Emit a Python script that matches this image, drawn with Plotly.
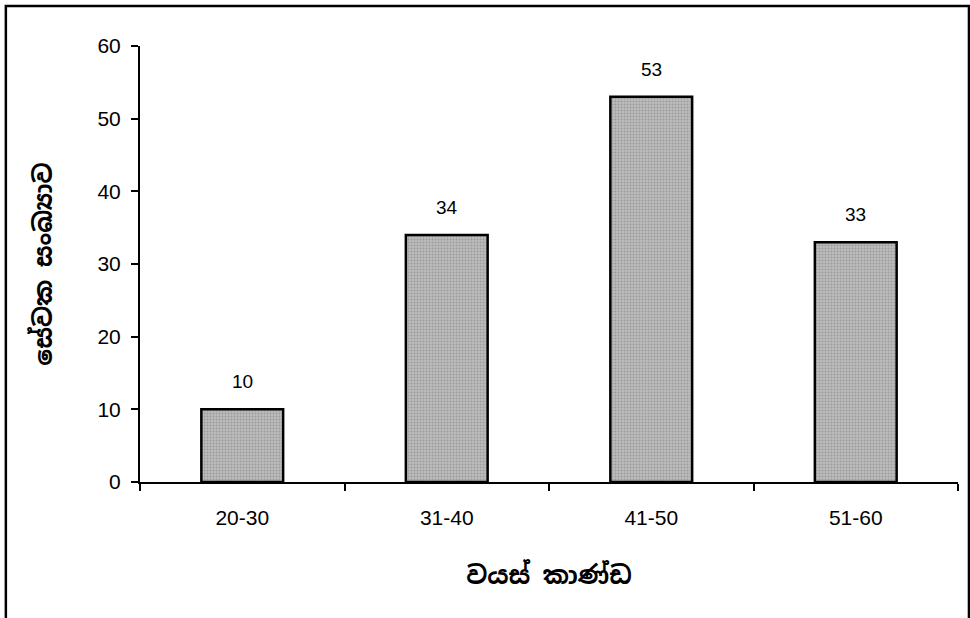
import plotly.graph_objects as go

categories = ["20-30", "31-40", "41-50", "51-60"]
values = [10, 34, 53, 33]
y_ticks = [0, 10, 20, 30, 40, 50, 60]
x_title = "වයස් කාණ්ඩ"
y_title = "සේවක සංඛ්‍යාව"

font_fam = "Liberation Sans, Arial, sans-serif"
sinhala_fam = "Noto Sans Sinhala, Noto Serif Sinhala, Iskoola Pota, Liberation Sans, sans-serif"

fig = go.Figure(go.Bar(
    x=categories, y=values, width=0.4,
    marker=dict(color="#aaaaaa", line=dict(color="black", width=2.5),
                pattern=dict(shape=".", fgcolor="#7a7a7a", bgcolor="#bcbcbc", size=3, solidity=0.35)),
    hoverinfo="x+y",
))

annotations = [dict(x=c, y=v, text=str(v), showarrow=False, xref="x", yref="y",
                    yanchor="bottom", yshift=15,
                    font=dict(family=font_fam, size=19, color="black"))
               for c, v in zip(categories, values)]

fig.update_layout(
    width=970, height=618,
    margin=dict(l=140, r=12, t=46, b=136),
    paper_bgcolor="white", plot_bgcolor="white",
    showlegend=False,
    font=dict(family=font_fam, size=21, color="black"),
    annotations=annotations,
    xaxis=dict(showline=True, linecolor="black", linewidth=2,
               ticks="outside", tickson="boundaries", ticklen=7, tickwidth=2, tickcolor="black",
               tickfont=dict(size=21), showgrid=False, ticklabelstandoff=16,
               title=dict(text=x_title, font=dict(family=sinhala_fam, size=25, weight="bold"), standoff=38)),
    yaxis=dict(range=[0, 60], tickvals=y_ticks, showline=True, linecolor="black", linewidth=2,
               ticks="outside", ticklen=7, tickwidth=2, tickcolor="black",
               tickfont=dict(size=21), showgrid=False, zeroline=False, ticklabelstandoff=6,
               title=dict(text=y_title, font=dict(family=sinhala_fam, size=25, weight="bold"), standoff=38)),
    shapes=[dict(type="rect", xref="paper", yref="paper",
                 x0=-0.164, x1=1.0134, y0=-0.33, y1=1.092,
                 line=dict(color="black", width=2.5), fillcolor="rgba(0,0,0,0)")],
)

fig.write_html("out.html", config={"displayModeBar": False},
               post_script="document.body.style.margin='0';")
